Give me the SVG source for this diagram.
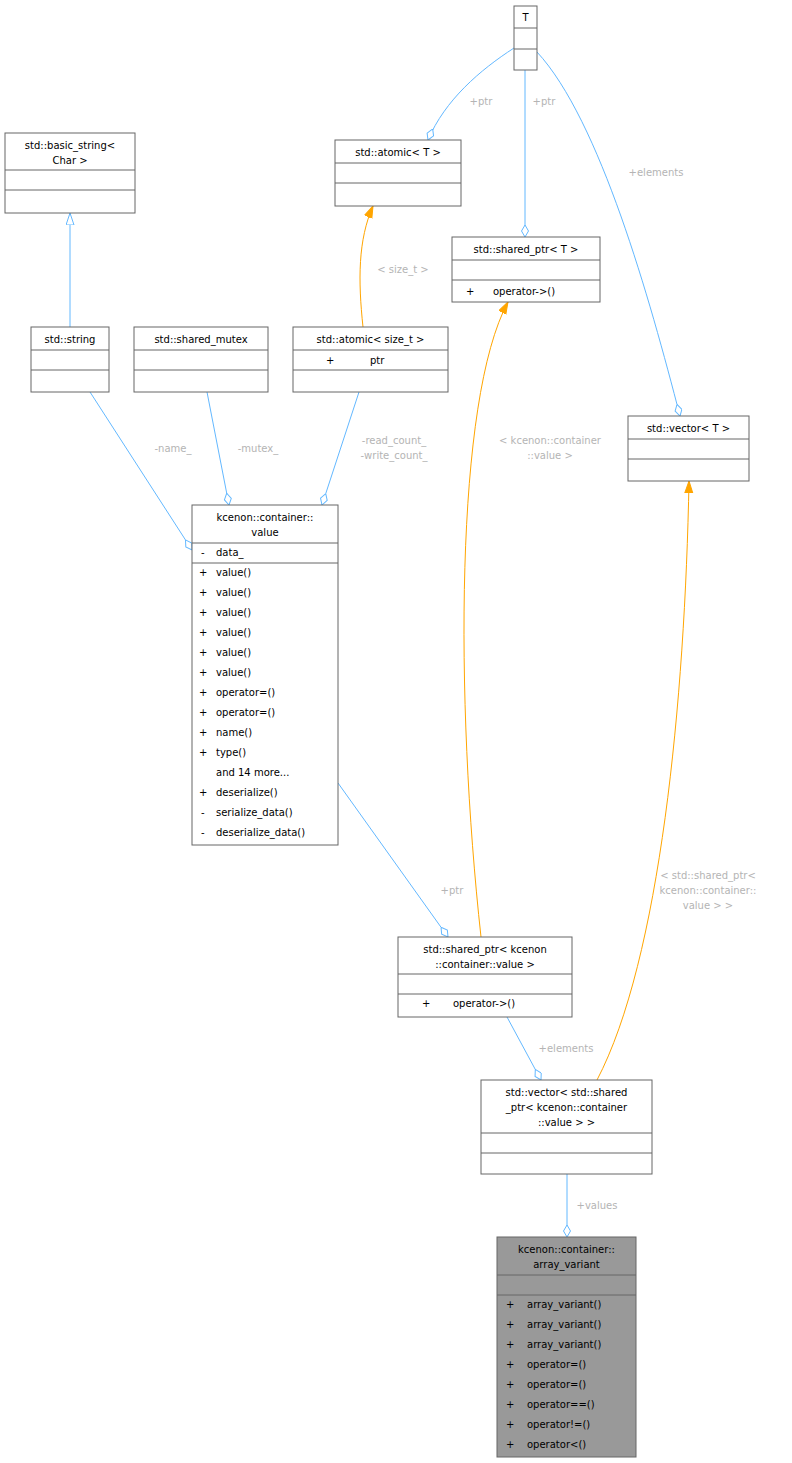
<svg xmlns="http://www.w3.org/2000/svg" width="792" height="1463" viewBox="0 0 792 1463">
<style>
.n{fill:#fff;stroke:#666;stroke-width:1}
.g{fill:#999;stroke:#666;stroke-width:1}
.s{stroke:#666;stroke-width:1}
text{font-family:"DejaVu Sans",sans-serif;font-size:10px;fill:#000}
.c{text-anchor:middle}
.l{fill:#b4b4b4;text-anchor:middle}
.b{fill:none;stroke:#63b8ff;stroke-width:1}
.o{fill:none;stroke:#ffa500;stroke-width:1}
</style>
<defs>
<marker id="dia" markerUnits="userSpaceOnUse" markerWidth="14" markerHeight="10" refX="12" refY="4" orient="auto"><path d="M0,4 L6,0.5 L12,4 L6,7.5 Z" fill="#fff" stroke="#63b8ff"/></marker>
<marker id="tri" markerUnits="userSpaceOnUse" markerWidth="14" markerHeight="10" refX="12" refY="4.5" orient="auto"><path d="M0,0.5 L12,4.5 L0,8.5 Z" fill="#fff" stroke="#63b8ff"/></marker>
<marker id="arr" markerUnits="userSpaceOnUse" markerWidth="14" markerHeight="10" refX="12" refY="4.5" orient="auto"><path d="M0,0.5 L12,4.5 L0,8.5 Z" fill="#ffa500" stroke="#ffa500"/></marker>
</defs>
<g id="edges">
<path class="b" d="M70,327 L70,213" marker-end="url(#tri)"/>
<path class="b" d="M514,48 C480,70 445,100 428,140" marker-end="url(#dia)"/>
<path class="b" d="M525,70 L525,237" marker-end="url(#dia)"/>
<path class="b" d="M537,52 C600,120 650,300 680,416" marker-end="url(#dia)"/>
<path class="o" d="M363,327 C358,280 358,240 373,206" marker-end="url(#arr)"/>
<path class="b" d="M90,392 L192,550" marker-end="url(#dia)"/>
<path class="b" d="M207,392 L229,505" marker-end="url(#dia)"/>
<path class="b" d="M359,392 L322,505" marker-end="url(#dia)"/>
<path class="b" d="M338,783 L448,937" marker-end="url(#dia)"/>
<path class="o" d="M481,937 C455,700 455,400 508,302" marker-end="url(#arr)"/>
<path class="o" d="M597,1080 C660,960 685,700 689,481" marker-end="url(#arr)"/>
<path class="b" d="M507,1017 L541,1080" marker-end="url(#dia)"/>
<path class="b" d="M567,1174 L567,1237" marker-end="url(#dia)"/>
<text class="l" x="481" y="105">+ptr</text>
<text class="l" x="544" y="105">+ptr</text>
<text class="l" x="656" y="176">+elements</text>
<text class="l" x="403" y="273">&lt; size_t &gt;</text>
<text class="l" x="173" y="452">-name_</text>
<text class="l" x="258" y="452">-mutex_</text>
<text class="l" x="394" y="444">-read_count_</text>
<text class="l" x="394" y="459">-write_count_</text>
<text class="l" x="452" y="894">+ptr</text>
<text class="l" x="550" y="444">&lt; kcenon::container</text>
<text class="l" x="550" y="459">::value &gt;</text>
<text class="l" x="708" y="879">&lt; std::shared_ptr&lt;</text>
<text class="l" x="708" y="894">kcenon::container::</text>
<text class="l" x="708" y="909">value &gt; &gt;</text>
<text class="l" x="566" y="1052">+elements</text>
<text class="l" x="597" y="1209">+values</text>
</g>
<g id="T"><rect class="n" x="514" y="6" width="23" height="64"/><line class="s" x1="514" y1="28" x2="537" y2="28"/><line class="s" x1="514" y1="49" x2="537" y2="49"/><text class="c" x="525.5" y="21">T</text></g>
<g id="basic_string"><rect class="n" x="5" y="133" width="130" height="80"/><line class="s" x1="5" y1="170" x2="135" y2="170"/><line class="s" x1="5" y1="190" x2="135" y2="190"/><text class="c" x="70" y="149">std::basic_string&lt;</text><text class="c" x="70" y="164">Char &gt;</text></g>
<g id="atomic_T"><rect class="n" x="335" y="140" width="126" height="66"/><line class="s" x1="335" y1="163" x2="461" y2="163"/><line class="s" x1="335" y1="183" x2="461" y2="183"/><text class="c" x="398" y="156">std::atomic&lt; T &gt;</text></g>
<g id="shared_ptr_T"><rect class="n" x="452" y="237" width="148" height="65"/><line class="s" x1="452" y1="260" x2="600" y2="260"/><line class="s" x1="452" y1="280" x2="600" y2="280"/><text class="c" x="526" y="253">std::shared_ptr&lt; T &gt;</text><text x="466" y="295">+</text><text x="493" y="295">operator-&gt;()</text></g>
<g id="string"><rect class="n" x="31" y="327" width="78" height="65"/><line class="s" x1="31" y1="350" x2="109" y2="350"/><line class="s" x1="31" y1="370" x2="109" y2="370"/><text class="c" x="70" y="343">std::string</text></g>
<g id="shared_mutex"><rect class="n" x="134" y="327" width="134" height="65"/><line class="s" x1="134" y1="350" x2="268" y2="350"/><line class="s" x1="134" y1="370" x2="268" y2="370"/><text class="c" x="201" y="343">std::shared_mutex</text></g>
<g id="atomic_size_t"><rect class="n" x="293" y="327" width="155" height="65"/><line class="s" x1="293" y1="350" x2="448" y2="350"/><line class="s" x1="293" y1="370" x2="448" y2="370"/><text class="c" x="370.5" y="343">std::atomic&lt; size_t &gt;</text><text x="326" y="364">+</text><text x="370" y="364">ptr</text></g>
<g id="vector_T"><rect class="n" x="628" y="416" width="121" height="65"/><line class="s" x1="628" y1="439" x2="749" y2="439"/><line class="s" x1="628" y1="459" x2="749" y2="459"/><text class="c" x="688.5" y="432">std::vector&lt; T &gt;</text></g>
<g id="value"><rect class="n" x="192" y="505" width="146" height="340"/><line class="s" x1="192" y1="543" x2="338" y2="543"/><line class="s" x1="192" y1="563" x2="338" y2="563"/>
<text class="c" x="265" y="521">kcenon::container::</text><text class="c" x="265" y="536">value</text>
<text x="201" y="556">-</text><text x="216" y="556">data_</text>
<text x="199" y="576">+</text><text x="216" y="576">value()</text>
<text x="199" y="596">+</text><text x="216" y="596">value()</text>
<text x="199" y="616">+</text><text x="216" y="616">value()</text>
<text x="199" y="636">+</text><text x="216" y="636">value()</text>
<text x="199" y="656">+</text><text x="216" y="656">value()</text>
<text x="199" y="676">+</text><text x="216" y="676">value()</text>
<text x="199" y="696">+</text><text x="216" y="696">operator=()</text>
<text x="199" y="716">+</text><text x="216" y="716">operator=()</text>
<text x="199" y="736">+</text><text x="216" y="736">name()</text>
<text x="199" y="756">+</text><text x="216" y="756">type()</text>
<text x="216" y="776">and 14 more...</text>
<text x="199" y="796">+</text><text x="216" y="796">deserialize()</text>
<text x="201" y="816">-</text><text x="216" y="816">serialize_data()</text>
<text x="201" y="836">-</text><text x="216" y="836">deserialize_data()</text></g>
<g id="shared_ptr_value"><rect class="n" x="398" y="937" width="174" height="80"/><line class="s" x1="398" y1="974" x2="572" y2="974"/><line class="s" x1="398" y1="994" x2="572" y2="994"/><text class="c" x="485" y="953">std::shared_ptr&lt; kcenon</text><text class="c" x="485" y="968">::container::value &gt;</text><text x="422" y="1007">+</text><text x="453" y="1007">operator-&gt;()</text></g>
<g id="vector_shared"><rect class="n" x="481" y="1080" width="171" height="94"/><line class="s" x1="481" y1="1133" x2="652" y2="1133"/><line class="s" x1="481" y1="1153" x2="652" y2="1153"/><text class="c" x="566.5" y="1096">std::vector&lt; std::shared</text><text class="c" x="566.5" y="1111">_ptr&lt; kcenon::container</text><text class="c" x="566.5" y="1126">::value &gt; &gt;</text></g>
<g id="array_variant"><rect class="g" x="497" y="1237" width="139" height="220"/><line class="s" x1="497" y1="1275" x2="636" y2="1275"/><line class="s" x1="497" y1="1295" x2="636" y2="1295"/>
<text class="c" x="566.5" y="1253">kcenon::container::</text><text class="c" x="566.5" y="1268">array_variant</text>
<text x="506" y="1308">+</text><text x="527" y="1308">array_variant()</text>
<text x="506" y="1328">+</text><text x="527" y="1328">array_variant()</text>
<text x="506" y="1348">+</text><text x="527" y="1348">array_variant()</text>
<text x="506" y="1368">+</text><text x="527" y="1368">operator=()</text>
<text x="506" y="1388">+</text><text x="527" y="1388">operator=()</text>
<text x="506" y="1408">+</text><text x="527" y="1408">operator==()</text>
<text x="506" y="1428">+</text><text x="527" y="1428">operator!=()</text>
<text x="506" y="1448">+</text><text x="527" y="1448">operator&lt;()</text></g>
</svg>
